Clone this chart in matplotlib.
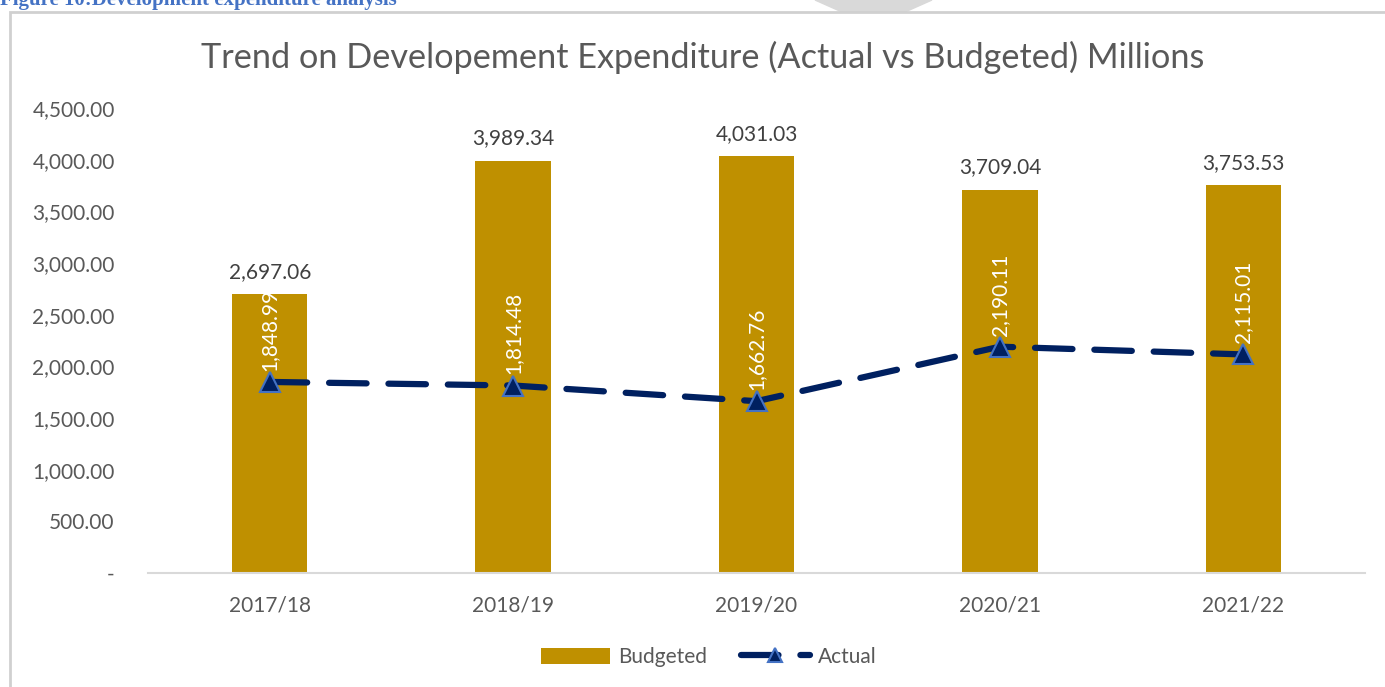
import numpy as np
import matplotlib.pyplot as plt
from matplotlib.patches import Rectangle, Polygon

years = ['2017/18', '2018/19', '2019/20', '2020/21', '2021/22']
budgeted = [2697.06, 3989.34, 4031.03, 3709.04, 3753.53]
actual = [1848.99, 1814.48, 1662.76, 2190.11, 2115.01]
yticks = [0, 500, 1000, 1500, 2000, 2500, 3000, 3500, 4000, 4500]

plt.rcParams['font.family'] = ['Lato', 'DejaVu Sans']
FS = 15

fig = plt.figure(figsize=(13.85, 6.87), dpi=100)

# page decorations: caption, chart frame, watermark bit
fig.patches.append(Polygon([[815/1385, 1], [932/1385, 1], [905/1385, 1-12/687], [842/1385, 1-12/687]],
                           closed=True, transform=fig.transFigure, color='#D9D9D9', zorder=0))
fig.patches.append(Rectangle((10/1385, -0.05), 1.1, 1-12/687+0.05, transform=fig.transFigure,
                             fill=False, edgecolor='#D0D0D0', linewidth=2, zorder=1))
fig.text(0.0, 1-5/687, 'Figure 10:Development expenditure analysis', family='Liberation Serif',
         weight='bold', color='#4472C4', fontsize=15, va='baseline', ha='left')

ax = fig.add_axes([148/1385, 1-573/687, 1217/1385, 465/687])
x = np.arange(len(years))

bars = ax.bar(x, budgeted, width=0.31, color='#BF9000', label='Budgeted', zorder=2)
line, = ax.plot(x, actual, color='#002060', linewidth=4.5, dashes=(6, 3.5), dash_capstyle='round',
                marker='^', markersize=15, markerfacecolor='#002060', markeredgecolor='#4472C4',
                markeredgewidth=1.5, label='Actual', zorder=3)

for xi, v in zip(x, budgeted):
    ax.annotate(f'{v:,.2f}', (xi, v), xytext=(0, 9), textcoords='offset points',
                ha='center', va='bottom', fontsize=FS, color='#404040')
for xi, v in zip(x, actual):
    ax.annotate(f'{v:,.2f}', (xi, v), xytext=(0, 8), textcoords='offset points',
                ha='center', va='bottom', rotation=90, fontsize=FS, color='white', zorder=4)

ax.set_xlim(-0.5, len(years) - 0.5)
ax.set_ylim(0, 4500)
ax.set_xticks(x)
ax.set_xticklabels(years)
ax.set_yticks(yticks)
ax.set_yticklabels(['-' if t == 0 else f'{t:,.2f}' for t in yticks])
ax.tick_params(axis='both', length=0, labelsize=FS, labelcolor='#595959')
ax.tick_params(axis='x', pad=16)
ax.tick_params(axis='y', pad=24)
for s in ['top', 'right', 'left']:
    ax.spines[s].set_visible(False)
ax.spines['bottom'].set_color('#D9D9D9')
ax.spines['bottom'].set_linewidth(1.5)

fig.text(703/1385, 1-57/687, 'Trend on Developement Expenditure (Actual vs Budgeted) Millions',
         fontsize=24.7, color='#595959', ha='center', va='center')

fig.legend([bars, line], ['Budgeted', 'Actual'], loc='center', bbox_to_anchor=(709/1385, 1-657/687),
           ncol=2, frameon=False, fontsize=FS, labelcolor='#595959', handlelength=3.3,
           handleheight=0.8, columnspacing=1.6, handletextpad=0.4, markerscale=0.7)

fig.savefig('out.png', dpi=100)
plt.close()
